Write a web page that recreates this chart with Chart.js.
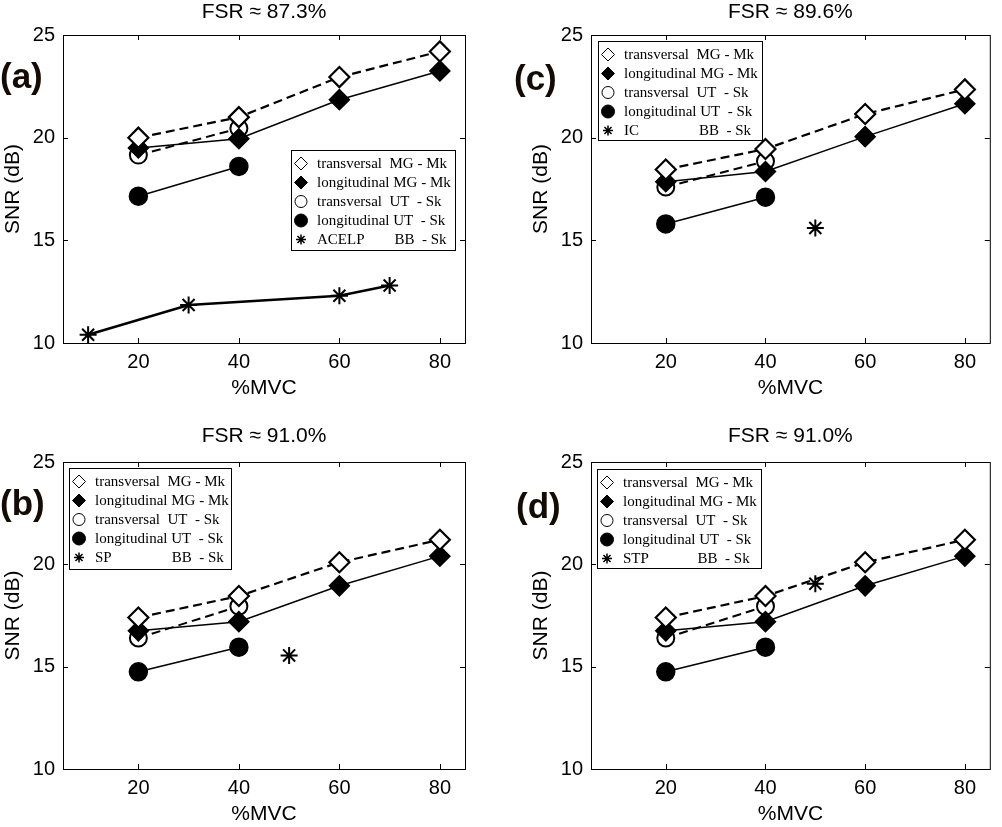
<!DOCTYPE html>
<html>
<head>
<meta charset="utf-8">
<script src="https://cdn.jsdelivr.net/npm/chart.js@4.4.1/dist/chart.umd.min.js"></script>
<style>
  html, body { margin: 0; padding: 0; background: #fff; }
  #wrap { position: relative; width: 1002px; height: 827px; overflow: hidden; }
  .panel { position: absolute; }
</style>
</head>
<body>
<div id="wrap">
  <div class="panel" style="left:0;top:0"><canvas id="pa" width="501" height="413"></canvas></div>
  <div class="panel" style="left:501px;top:0"><canvas id="pc" width="501" height="413"></canvas></div>
  <div class="panel" style="left:0;top:413px"><canvas id="pb" width="501" height="414"></canvas></div>
  <div class="panel" style="left:501px;top:413px"><canvas id="pd" width="501" height="414"></canvas></div>
</div>
<script>
// x values (%MVC) and axis ticks
const mvc = [20, 40, 60, 80];
const mvcUT = [20, 40];
const xTicks = [20, 40, 60, 80];
const yTicks = [10, 15, 20, 25];

// (a) FSR ~ 87.3%
const aTransMG = [20.0, 21.0, 22.95, 24.2];
const aLongMG = [19.5, 19.95, 21.85, 23.25];
const aTransUT = [19.15, 20.45];
const aLongUT = [17.15, 18.6];
const aBBx = [10, 30, 60, 70];
const aBB = [10.4, 11.85, 12.3, 12.8];

// (c) FSR ~ 89.6%
const cTransMG = [18.45, 19.45, 21.15, 22.35];
const cLongMG = [17.85, 18.35, 20.05, 21.65];
const cTransUT = [17.6, 18.85];
const cLongUT = [15.8, 17.1];
const cBBx = [50];
const cBB = [15.6];

// (b) FSR ~ 91.0%
const bTransMG = [17.4, 18.45, 20.1, 21.2];
const bLongMG = [16.75, 17.2, 18.95, 20.4];
const bTransUT = [16.4, 17.95];
const bLongUT = [14.75, 15.95];
const bBBx = [50];
const bBB = [15.55];

// (d) FSR ~ 91.0%
const dTransMG = [17.4, 18.45, 20.1, 21.2];
const dLongMG = [16.75, 17.2, 18.95, 20.4];
const dTransUT = [16.4, 17.95];
const dLongUT = [14.75, 15.95];
const dBBx = [50];
const dBB = [19.05];

const sansFont = 'Arial, "Liberation Sans", Helvetica, sans-serif';
const serifFont = '"Times New Roman", "Liberation Serif", serif';

function pts(xs, ys) {
  return xs.map((x, i) => ({ x: x, y: ys[i] }));
}

// builds the five series of one panel
function makeDatasets(transMG, longMG, transUT, longUT, bbx, bb, bbName, bbLine) {
  return [
    { label: 'transversal  MG - Mk', data: pts(mvc, transMG), pointStyle: 'rectRot', pointRadius: 10,
      pointBackgroundColor: '#fff', borderDash: [9, 5], borderWidth: 2.2, legendRadius: 6.5 },
    { label: 'longitudinal MG - Mk', data: pts(mvc, longMG), pointStyle: 'rectRot', pointRadius: 10,
      pointBackgroundColor: '#000', borderWidth: 1.5, legendRadius: 6.5 },
    { label: 'transversal  UT  - Sk', data: pts(mvcUT, transUT), pointStyle: 'circle', pointRadius: 8.5,
      pointBackgroundColor: '#fff', borderDash: [9, 5], borderWidth: 2, legendRadius: 6 },
    { label: 'longitudinal UT  - Sk', data: pts(mvcUT, longUT), pointStyle: 'circle', pointRadius: 9,
      pointBackgroundColor: '#000', borderWidth: 1.5, legendRadius: 6.5 },
    { label: bbName, data: pts(bbx, bb), pointStyle: 'star', pointRadius: 8.5, pointBorderWidth: 2,
      pointBackgroundColor: '#000', borderWidth: bbLine ? 2.5 : 0, showLine: bbLine, legendRadius: 5 }
  ];
}

// box, inward ticks, titles and the legend, MATLAB style
const decor = {
  id: 'decor',
  beforeDatasetsDraw(chart) {
    const ctx = chart.ctx, a = chart.chartArea;
    const xs = chart.scales.x, ys = chart.scales.y;
    ctx.save();
    ctx.strokeStyle = '#000';
    ctx.lineWidth = 1;
    ctx.strokeRect(a.left + 0.5, a.top + 0.5, a.right - a.left, a.bottom - a.top);
    ctx.beginPath();
    xTicks.forEach(v => {
      const px = Math.round(xs.getPixelForValue(v)) + 0.5;
      ctx.moveTo(px, a.bottom); ctx.lineTo(px, a.bottom - 5);
      ctx.moveTo(px, a.top); ctx.lineTo(px, a.top + 5);
    });
    yTicks.forEach(v => {
      const py = Math.round(ys.getPixelForValue(v)) + 0.5;
      ctx.moveTo(a.left, py); ctx.lineTo(a.left + 5, py);
      ctx.moveTo(a.right, py); ctx.lineTo(a.right - 5, py);
    });
    ctx.stroke();
    ctx.restore();
  },
  afterDraw(chart, args, o) {
    const ctx = chart.ctx, a = chart.chartArea;
    const cx = (a.left + a.right) / 2, cy = (a.top + a.bottom) / 2;
    ctx.save();
    ctx.fillStyle = '#000';
    ctx.textBaseline = 'middle';
    ctx.textAlign = 'center';
    ctx.font = '21px ' + sansFont;
    ctx.fillText(o.title, cx, o.titleY);
    ctx.font = '21px ' + sansFont;
    ctx.fillText('%MVC', cx, a.bottom + 45);
    ctx.save();
    ctx.translate(a.left - 50, cy);
    ctx.rotate(-Math.PI / 2);
    ctx.fillText('SNR (dB)', 0, 0);
    ctx.restore();
    ctx.textAlign = 'left';
    ctx.fillStyle = '#140c04';
    ctx.font = 'bold 35px ' + sansFont;
    ctx.fillText(o.letter, o.letterX, o.letterY);

    // legend
    const lg = o.legend;
    ctx.fillStyle = '#fff';
    ctx.fillRect(lg.x, lg.y, lg.w, lg.h);
    ctx.strokeStyle = '#000';
    ctx.lineWidth = 1;
    ctx.strokeRect(lg.x + 0.5, lg.y + 0.5, lg.w, lg.h);
    chart.data.datasets.forEach((ds, i) => {
      const ry = lg.y + 13.5 + i * 19;
      ctx.lineWidth = ds.pointStyle === 'star' ? 1.5 : 1;
      ctx.strokeStyle = '#000';
      ctx.fillStyle = ds.pointBackgroundColor;
      Chart.helpers.drawPoint(ctx, { pointStyle: ds.pointStyle, radius: ds.legendRadius,
        borderWidth: ctx.lineWidth, rotation: 0 }, lg.x + 10, ry);
      ctx.fillStyle = '#000';
      ctx.font = '15px ' + serifFont;
      ctx.fillText(ds.label, lg.x + 26, ry + 1);
    });
    ctx.restore();
  }
};

function drawPanel(id, datasets, opt) {
  new Chart(document.getElementById(id), {
    type: 'line',
    data: { datasets: datasets },
    options: {
      responsive: false,
      animation: false,
      layout: { padding: { left: 0, top: opt.padTop, right: opt.padRight, bottom: 0 } },
      elements: {
        line: { tension: 0, borderColor: '#000', fill: false },
        point: { borderColor: '#000', borderWidth: 1, hoverRadius: 8 }
      },
      scales: {
        x: {
          type: 'linear', min: 5, max: 85,
          afterBuildTicks: s => { s.ticks = xTicks.map(v => ({ value: v })); },
          afterFit: s => { s.height = opt.xAxisH; },
          grid: { display: false, drawTicks: false },
          border: { display: false },
          ticks: { color: '#000', font: { family: sansFont, size: 20 }, padding: 7, maxRotation: 0, autoSkip: false }
        },
        y: {
          type: 'linear', min: 10, max: 25,
          afterBuildTicks: s => { s.ticks = yTicks.map(v => ({ value: v })); },
          afterFit: s => { s.width = opt.yAxisW; },
          grid: { display: false, drawTicks: false },
          border: { display: false },
          ticks: { color: '#000', font: { family: sansFont, size: 20 }, padding: 8 }
        }
      },
      plugins: {
        legend: { display: false },
        tooltip: { enabled: false },
        decor: opt.decor
      }
    },
    plugins: [decor]
  });
}

drawPanel('pa', makeDatasets(aTransMG, aLongMG, aTransUT, aLongUT, aBBx, aBB, 'ACELP        BB  - Sk', true), {
  padTop: 35, padRight: 36, xAxisH: 70, yAxisW: 63,
  decor: { title: 'FSR \u2248 87.3%', titleY: 12, letter: '(a)', letterX: 0, letterY: 78,
           legend: { x: 291, y: 150, w: 164, h: 100 } }
});
drawPanel('pc', makeDatasets(cTransMG, cLongMG, cTransUT, cLongUT, cBBx, cBB, 'IC                BB  - Sk', false), {
  padTop: 35, padRight: 9, xAxisH: 70, yAxisW: 90,
  decor: { title: 'FSR \u2248 89.6%', titleY: 12, letter: '(c)', letterX: 13, letterY: 80,
           legend: { x: 97, y: 41, w: 164, h: 99 } }
});
drawPanel('pb', makeDatasets(bTransMG, bLongMG, bTransUT, bLongUT, bBBx, bBB, 'SP                BB  - Sk', false), {
  padTop: 49, padRight: 36, xAxisH: 58, yAxisW: 63,
  decor: { title: 'FSR \u2248 91.0%', titleY: 23, letter: '(b)', letterX: 0, letterY: 92,
           legend: { x: 69, y: 55, w: 162, h: 101 } }
});
drawPanel('pd', makeDatasets(dTransMG, dLongMG, dTransUT, dLongUT, dBBx, dBB, 'STP             BB  - Sk', false), {
  padTop: 49, padRight: 9, xAxisH: 58, yAxisW: 90,
  decor: { title: 'FSR \u2248 91.0%', titleY: 23, letter: '(d)', letterX: 15, letterY: 95,
           legend: { x: 96, y: 56, w: 164, h: 99 } }
});
</script>
</body>
</html>
